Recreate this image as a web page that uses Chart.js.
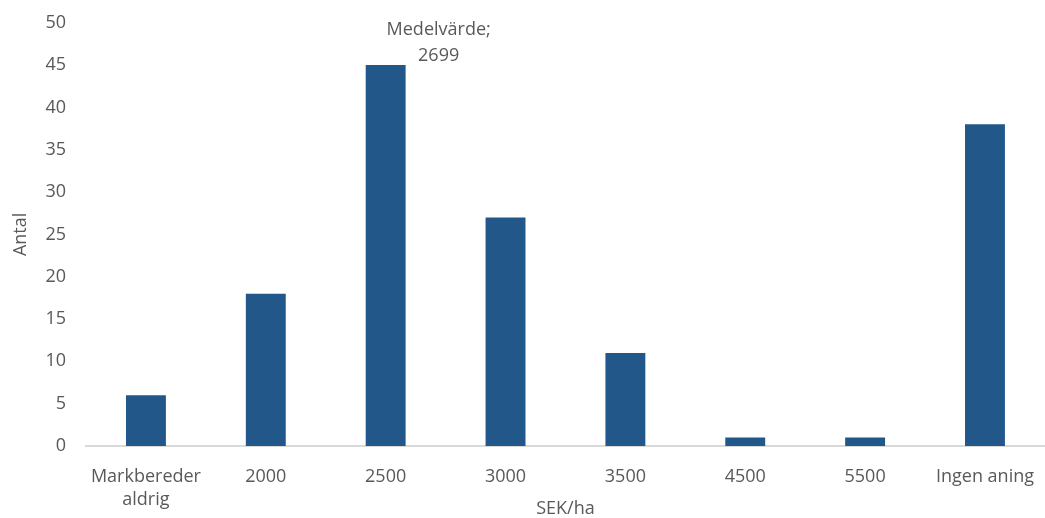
<!DOCTYPE html>
<html lang="sv">
<head>
<meta charset="UTF-8">
<title>Antal per SEK/ha</title>
<script src="https://cdn.jsdelivr.net/npm/chart.js"></script>
<style>
    html, body { margin: 0; padding: 0; background: #fff; }
    #wrap { width: 1045px; height: 518px; }
</style>
</head>
<body>
<div id="wrap"><canvas id="stapel"></canvas></div>
<script>
    // kategorier och antal svar
    const kategorier = [['Markbereder', 'aldrig'], '2000', '2500', '3000', '3500', '4500', '5500', 'Ingen aning'];
    const antal = [6, 18, 45, 27, 11, 1, 1, 38];
    const yTicks = [0, 5, 10, 15, 20, 25, 30, 35, 40, 45, 50];

    // etikett för medelvärdet, placeras vid stapeln 2500
    const medelKategori = 2;
    const medelText = ['Medelvärde;', '2699'];

    const textFarg = '#595959';
    const typsnitt = '"Open Sans", "Noto Sans", sans-serif';
    const storlek = 18;

    const medelPlugin = {
        id: 'medel',
        afterDatasetsDraw(chart) {
            const ctx = chart.ctx;
            const x = chart.scales.x.getPixelForValue(medelKategori);
            const y = chart.scales.y.getPixelForValue(antal[medelKategori]);
            ctx.save();
            ctx.fillStyle = textFarg;
            ctx.font = storlek + 'px ' + typsnitt;
            ctx.textAlign = 'center';
            ctx.textBaseline = 'middle';
            ctx.fillText(medelText[0], x + 53, y - 35);
            ctx.fillText(medelText[1], x + 53, y - 9);
            ctx.restore();
        }
    };

    const config = {
        type: 'bar',
        data: {
            labels: kategorier,
            datasets: [{
                label: 'Antal',
                data: antal,
                backgroundColor: '#22578A',
                barPercentage: 1,
                categoryPercentage: 0.333
            }]
        },
        options: {
            responsive: true,
            maintainAspectRatio: false,
            animation: false,
            layout: { padding: { top: 14, right: 0, left: 10, bottom: 0 } },
            plugins: {
                legend: { display: false },
                tooltip: { enabled: false }
            },
            scales: {
                x: {
                    afterFit(axis) { axis.height = 72; },
                    grid: { display: false },
                    border: { display: true, color: '#D9D9D9', width: 2 },
                    ticks: {
                        color: textFarg,
                        font: { family: typsnitt, size: storlek, lineHeight: 1.3 },
                        maxRotation: 0,
                        autoSkip: false,
                        padding: 11
                    },
                    title: {
                        display: true,
                        text: 'SEK/ha',
                        color: textFarg,
                        font: { family: typsnitt, size: storlek },
                        padding: { top: 0, bottom: -2 }
                    }
                },
                y: {
                    min: 0,
                    max: 50,
                    afterBuildTicks(axis) {
                        axis.ticks = yTicks.map(v => ({ value: v }));
                    },
                    afterFit(axis) { axis.width = 76; },
                    grid: { display: false },
                    border: { display: false },
                    ticks: {
                        color: textFarg,
                        font: { family: typsnitt, size: storlek },
                        padding: 12
                    },
                    title: {
                        display: true,
                        text: 'Antal',
                        color: textFarg,
                        font: { family: typsnitt, size: storlek },
                        padding: 0
                    }
                }
            }
        },
        plugins: [medelPlugin]
    };

    new Chart(document.getElementById('stapel').getContext('2d'), config);
</script>
</body>
</html>
